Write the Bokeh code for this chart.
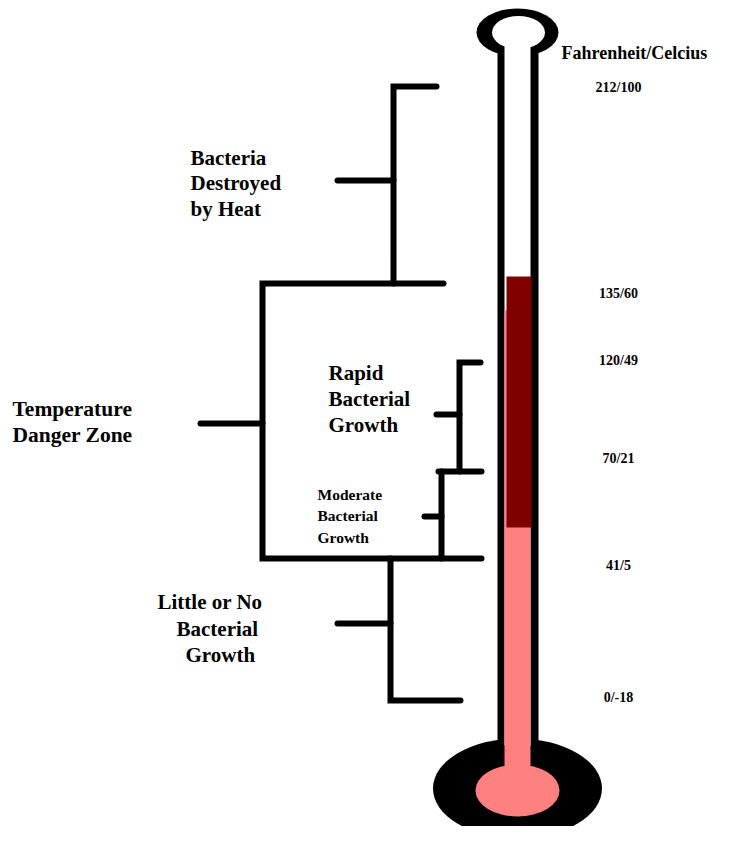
from bokeh.plotting import figure
from bokeh.models import Range1d, ColumnDataSource
from bokeh.core.properties import value
from bokeh.embed import file_html
from bokeh.resources import INLINE

# ---- data (diagram coordinates in page pixels) ----
# temperature scale labels and their vertical positions
temp_labels = ["212/100", "135/60", "120/49", "70/21", "41/5", "0/-18"]
temp_label_y = [87, 293, 360, 458, 565, 697]
scale_title = "Fahrenheit/Celcius"

# thermometer fill levels (top of fill, boundary between zones, bottom)
fill_top_dark = 276     # 135 F
fill_dark_bottom = 527  # 41 F boundary
fill_top_pink = 310

# bracket polylines (x list, y list)
bracket_xs = [
    [436, 393, 393], [337, 393],
    [443, 262, 262, 481], [200, 262],
    [480, 459, 459], [436, 459], [438, 481],
    [441, 441], [424, 441],
    [390, 390, 460], [337, 390],
]
bracket_ys = [
    [86, 86, 283], [180, 180],
    [283, 283, 558, 558], [423, 423],
    [362, 362, 471], [414, 414], [471, 471],
    [471, 558], [516, 516],
    [558, 700, 700], [623, 623],
]

# zone labels: text lines, left x, centre y, size
zone_text = ["Bacteria", "Destroyed", "by Heat",
             "Temperature", "Danger Zone",
             "Rapid", "Bacterial", "Growth",
             "Moderate", "Bacterial", "Growth",
             "Little or No", "Bacterial", "Growth"]
zone_x = [190, 190, 190,
          12, 12,
          328, 328, 328,
          317, 317, 317,
          157, 176, 185]
zone_y = [157, 182, 208,
          408, 434,
          372, 398, 424,
          494, 515, 537,
          601, 628, 654]
zone_size = ["21px"] * 3 + ["21.5px"] * 2 + ["21px"] * 3 + ["15.5px"] * 3 + ["21px"] * 3

W, H = 713, 826
p = figure(width=W, height=H, output_backend="svg", toolbar_location=None,
           x_range=Range1d(0, W), y_range=Range1d(H, 0),
           min_border=0, outline_line_color=None,
           x_axis_location=None, y_axis_location=None)
p.grid.visible = False
p.background_fill_color = "white"

FONT = value("Liberation Serif")

# thermometer body
p.ellipse(x=[517], y=[32], width=[82], height=[48], fill_color="black", line_color=None)
p.quad(left=[497], right=[538], top=[40], bottom=[765], fill_color="black", line_color=None)
p.ellipse(x=[517], y=[788], width=[169], height=[100], fill_color="black", line_color=None)
p.ellipse(x=[518], y=[32], width=[53], height=[33], fill_color="white", line_color=None)
p.quad(left=[504], right=[530], top=[38], bottom=[745], fill_color="white", line_color=None)
p.quad(left=[504], right=[530], top=[fill_top_pink], bottom=[780], fill_color="#FF8080", line_color=None)
p.quad(left=[506], right=[531], top=[fill_top_dark], bottom=[fill_dark_bottom], fill_color="#800000", line_color=None)
p.ellipse(x=[517], y=[790], width=[84], height=[52], fill_color="#FF8080", line_color=None)

# brackets
p.multi_line(xs=bracket_xs, ys=bracket_ys, line_color="black", line_width=6,
             line_cap="round", line_join="miter")

# scale labels
p.text(x=[561], y=[52], text=[scale_title], text_font=FONT, text_font_style="bold",
       text_font_size="18px", text_baseline="middle", text_align="left", text_color="black")
p.text(x=[618] * len(temp_labels), y=temp_label_y, text=temp_labels, text_font=FONT,
       text_font_style="bold", text_font_size="14px", text_baseline="middle",
       text_align="center", text_color="black")

# zone labels
src = ColumnDataSource(dict(x=zone_x, y=zone_y, t=zone_text, s=zone_size))
p.text(x="x", y="y", text="t", text_font_size="s", source=src, text_font=FONT,
       text_font_style="bold", text_baseline="middle", text_align="left", text_color="black")

open("out.html", "w").write(file_html(p, INLINE))
